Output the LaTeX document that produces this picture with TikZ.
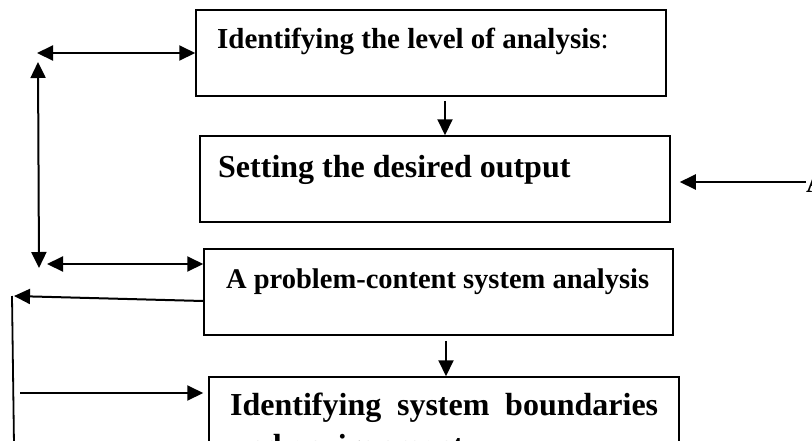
\documentclass[tikz,border=0pt]{standalone}
\usepackage{fontspec}
\setmainfont{Liberation Serif}
\usetikzlibrary{arrows.meta}
\begin{document}
\begin{tikzpicture}[x=1pt,y=-1pt,
  box/.style={draw, line width=1.5pt, minimum height=86pt, inner sep=0pt},
  tip/.style={Triangle[length=16pt,width=15pt]},
  arr/.style={line width=2pt,-{Triangle[length=16pt,width=15pt]}},
  darr/.style={line width=2pt,{Triangle[length=16pt,width=15pt]}-{Triangle[length=16pt,width=15pt]}},
  lbl/.style={anchor=base west, inner sep=0pt}]
\clip (0,0) rectangle (812,440);
% boxes
\node[box, minimum width=470pt] (b1) at (431,53) {};
\node[box, minimum width=470pt] (b2) at (435,179) {};
\node[box, minimum width=469pt] (b3) at (438.5,292) {};
\node[box, minimum width=470pt] (b4) at (444,420) {};
% labels
\node[lbl, font={\fontsize{29}{34}\selectfont\bfseries}] (t1) at (217,48) {Identifying the level of analysis\textmd{:}};
\node[lbl, font={\fontsize{32}{38}\selectfont\bfseries}] (t2) at (218,177) {Setting the desired output};
\node[lbl, font={\fontsize{28.5}{34}\selectfont\bfseries}] (t3) at (226,288) {A problem-content system analysis};
\node[lbl, font={\fontsize{32}{38}\selectfont\bfseries}] (t4) at (230,415) {\makebox[428pt][s]{Identifying system boundaries}};
\node[lbl, font={\fontsize{32}{38}\selectfont\bfseries}] (t5) at (230,456) {and environment};
\node[lbl, font={\fontsize{28}{34}\selectfont\bfseries}] (tA) at (806,192) {A};
% free ends
\coordinate (c1) at (37,53);
\coordinate (c2) at (38,62);
\coordinate (c3) at (39,268);
\coordinate (c4) at (47,264);
\coordinate (c5) at (14,296);
\coordinate (c6) at (12,296);
\coordinate (c7) at (14,445);
\coordinate (c8) at (20,393);
\coordinate (c9) at (806,182);
% connectors
\draw[arr] ([xshift=14pt,yshift=-4pt]b1.south) -- ([xshift=10pt]b2.north);
\draw[arr] ([xshift=7.5pt,yshift=-5pt]b3.south) -- ([xshift=2pt]b4.north);
\draw[darr] (c1) -- (b1.west);
\draw[darr] (c2) -- (c3);
\draw[darr] (c4) -- (c4 -| b3.west);
\draw[arr] ([yshift=-9pt]b3.west) -- (c5);
\draw[line width=1.8pt] (c6) -- (c7);
\draw[arr, shorten >=5pt] (c8) -- (c8 -| b4.west);
\draw[arr] (c9) -- ([xshift=9pt,yshift=-3pt]b2.east);
\end{tikzpicture}
\end{document}
